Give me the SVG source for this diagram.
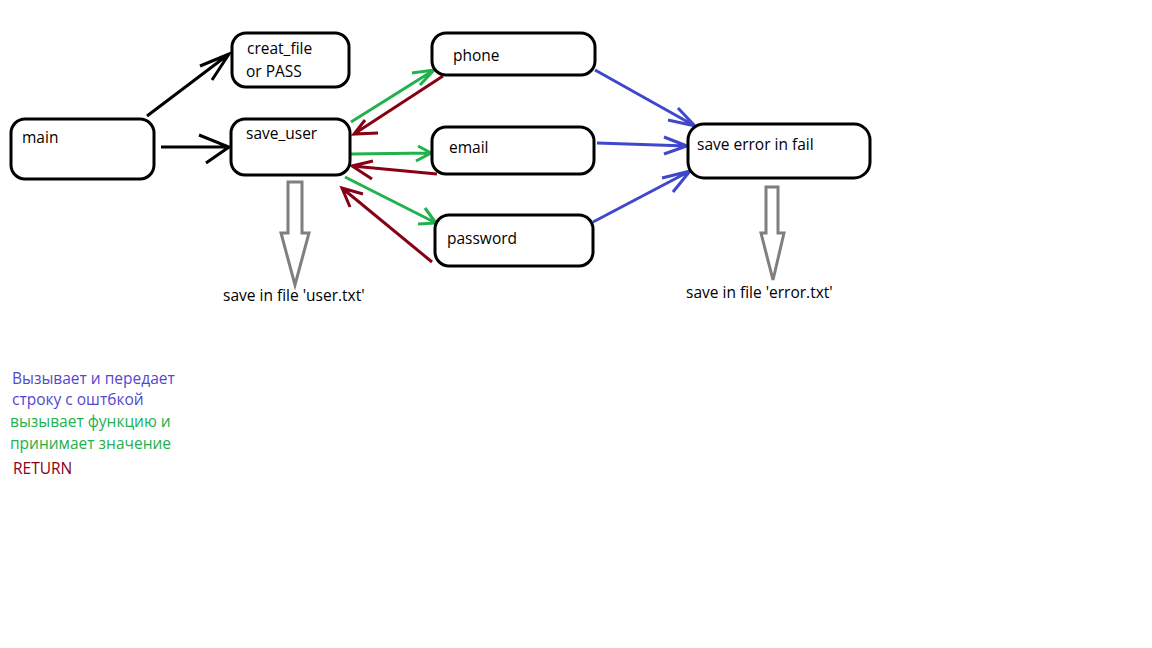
<svg xmlns="http://www.w3.org/2000/svg" width="1152" height="648" viewBox="0 0 1152 648">
<style>
.box{fill:#fff;stroke:#000;stroke-width:3}
.t{font-family:"Open Sans","Noto Sans","Liberation Sans",sans-serif;font-size:15.5px;fill:#000}
.k{stroke:#000;stroke-width:3;fill:none;stroke-linecap:butt}
.g{stroke:#22b14c;stroke-width:3;fill:none}
.r{stroke:#880015;stroke-width:3;fill:none}
.b{stroke:#3f48cc;stroke-width:3;fill:none}
.gr{stroke:#7f7f7f;stroke-width:3;fill:#fff}
</style>
<rect width="1152" height="648" fill="#fff"/>
<g id="connectors">
<path class="k" d="M147,116 L229,54 M200,66 L229,54 L212,80"/>
<path class="k" d="M161,147 L229,147 M199,135 L229,147 L206,163"/>
<path class="g" d="M351,122 L434,70 M412,73 L434,70 L420,85"/>
<path class="r" d="M443,76 L354,134 M378,133 L354,134 L365,120"/>
<path class="g" d="M351,154 L431,153 M418,146 L431,153 L416,161"/>
<path class="r" d="M437,174 L352,166 M373,161 L352,166 L372,179"/>
<path class="g" d="M345,177 L436,223 M425,208 L436,223 L418,224"/>
<path class="r" d="M432,262 L342,188 M363,194 L342,188 L350,207"/>
<path class="b" d="M595,70 L695,126 M678,108 L695,126 L668,120"/>
<path class="b" d="M597,143 L687,146 M664,137 L687,146 L664,154"/>
<path class="b" d="M593,222 L690,171 M662,178 L690,171 L673,192"/>
<path class="gr" d="M288,182 L302,182 L302,233 L309,233 L295,285 L281,233 L288,233 Z"/>
<path class="gr" d="M766,187 L778,187 L778,233 L784,233 L773,280 L761,233 L766,233 Z"/>
</g>
<g id="main"><rect class="box" x="11" y="119" width="143" height="60" rx="14"/><text class="t" x="22" y="143">main</text></g>
<g id="creat_file"><rect class="box" x="232" y="33" width="117" height="54" rx="14"/><text class="t" x="247" y="54">creat_file</text><text class="t" x="246" y="77">or PASS</text></g>
<g id="save_user"><rect class="box" x="231" y="119" width="119" height="56" rx="14"/><text class="t" x="246" y="139">save_user</text></g>
<g id="phone"><rect class="box" x="432" y="33" width="163" height="42" rx="14"/><text class="t" x="453" y="61">phone</text></g>
<g id="email"><rect class="box" x="432" y="127" width="162" height="47" rx="14"/><text class="t" x="449" y="153">email</text></g>
<g id="password"><rect class="box" x="435" y="215" width="158" height="51" rx="14"/><text class="t" x="447" y="244">password</text></g>
<g id="save_error"><rect class="box" x="688" y="124" width="182" height="54" rx="16"/><text class="t" x="697" y="150">save error in fail</text></g>
<g id="labels">
<text class="t" x="223" y="301">save in file 'user.txt'</text>
<text class="t" x="686" y="298">save in file 'error.txt'</text>
<text class="t" x="12" y="384" style="fill:#5448cc">Вызывает и передает</text>
<text class="t" x="12" y="405" style="fill:#5448cc">строку с оштбкой</text>
<text class="t" x="10" y="427" style="fill:#22b14c">вызывает функцию и</text>
<text class="t" x="10" y="449" style="fill:#22b14c">принимает значение</text>
<text class="t" x="13" y="474" style="fill:#880015">RETURN</text>
</g>
</svg>
